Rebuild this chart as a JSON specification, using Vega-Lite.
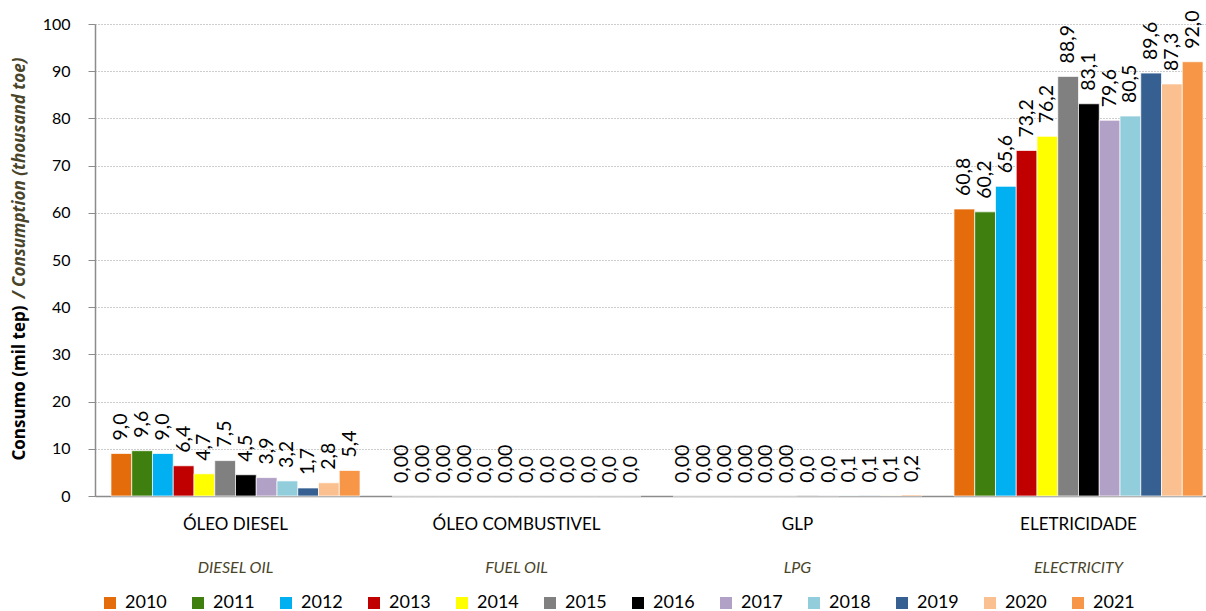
{
  "$schema": "https://vega.github.io/schema/vega-lite/v6.json",
  "width": 1111,
  "height": 472,
  "autosize": {"type": "none"},
  "padding": {"left": 95, "top": 24, "right": 0, "bottom": 115},
  "background": "white",
  "config": {"font": "Lato", "view": {"stroke": null}},
  "data": {
    "values": [
      {"cat": "ÓLEO DIESEL", "year": "2010", "value": 9.0, "label": "9,0"},
      {"cat": "ÓLEO DIESEL", "year": "2011", "value": 9.6, "label": "9,6"},
      {"cat": "ÓLEO DIESEL", "year": "2012", "value": 9.0, "label": "9,0"},
      {"cat": "ÓLEO DIESEL", "year": "2013", "value": 6.4, "label": "6,4"},
      {"cat": "ÓLEO DIESEL", "year": "2014", "value": 4.7, "label": "4,7"},
      {"cat": "ÓLEO DIESEL", "year": "2015", "value": 7.5, "label": "7,5"},
      {"cat": "ÓLEO DIESEL", "year": "2016", "value": 4.5, "label": "4,5"},
      {"cat": "ÓLEO DIESEL", "year": "2017", "value": 3.9, "label": "3,9"},
      {"cat": "ÓLEO DIESEL", "year": "2018", "value": 3.2, "label": "3,2"},
      {"cat": "ÓLEO DIESEL", "year": "2019", "value": 1.7, "label": "1,7"},
      {"cat": "ÓLEO DIESEL", "year": "2020", "value": 2.8, "label": "2,8"},
      {"cat": "ÓLEO DIESEL", "year": "2021", "value": 5.4, "label": "5,4"},
      {"cat": "ÓLEO COMBUSTIVEL", "year": "2010", "value": 0, "label": "0,00"},
      {"cat": "ÓLEO COMBUSTIVEL", "year": "2011", "value": 0, "label": "0,00"},
      {"cat": "ÓLEO COMBUSTIVEL", "year": "2012", "value": 0, "label": "0,00"},
      {"cat": "ÓLEO COMBUSTIVEL", "year": "2013", "value": 0, "label": "0,00"},
      {"cat": "ÓLEO COMBUSTIVEL", "year": "2014", "value": 0, "label": "0,0"},
      {"cat": "ÓLEO COMBUSTIVEL", "year": "2015", "value": 0, "label": "0,00"},
      {"cat": "ÓLEO COMBUSTIVEL", "year": "2016", "value": 0, "label": "0,0"},
      {"cat": "ÓLEO COMBUSTIVEL", "year": "2017", "value": 0, "label": "0,0"},
      {"cat": "ÓLEO COMBUSTIVEL", "year": "2018", "value": 0, "label": "0,0"},
      {"cat": "ÓLEO COMBUSTIVEL", "year": "2019", "value": 0, "label": "0,0"},
      {"cat": "ÓLEO COMBUSTIVEL", "year": "2020", "value": 0, "label": "0,0"},
      {"cat": "ÓLEO COMBUSTIVEL", "year": "2021", "value": 0, "label": "0,0"},
      {"cat": "GLP", "year": "2010", "value": 0, "label": "0,00"},
      {"cat": "GLP", "year": "2011", "value": 0, "label": "0,00"},
      {"cat": "GLP", "year": "2012", "value": 0, "label": "0,00"},
      {"cat": "GLP", "year": "2013", "value": 0, "label": "0,00"},
      {"cat": "GLP", "year": "2014", "value": 0, "label": "0,00"},
      {"cat": "GLP", "year": "2015", "value": 0, "label": "0,00"},
      {"cat": "GLP", "year": "2016", "value": 0.04, "label": "0,0"},
      {"cat": "GLP", "year": "2017", "value": 0.04, "label": "0,0"},
      {"cat": "GLP", "year": "2018", "value": 0.1, "label": "0,1"},
      {"cat": "GLP", "year": "2019", "value": 0.1, "label": "0,1"},
      {"cat": "GLP", "year": "2020", "value": 0.1, "label": "0,1"},
      {"cat": "GLP", "year": "2021", "value": 0.2, "label": "0,2"},
      {"cat": "ELETRICIDADE", "year": "2010", "value": 60.8, "label": "60,8"},
      {"cat": "ELETRICIDADE", "year": "2011", "value": 60.2, "label": "60,2"},
      {"cat": "ELETRICIDADE", "year": "2012", "value": 65.6, "label": "65,6"},
      {"cat": "ELETRICIDADE", "year": "2013", "value": 73.2, "label": "73,2"},
      {"cat": "ELETRICIDADE", "year": "2014", "value": 76.2, "label": "76,2"},
      {"cat": "ELETRICIDADE", "year": "2015", "value": 88.9, "label": "88,9"},
      {"cat": "ELETRICIDADE", "year": "2016", "value": 83.1, "label": "83,1"},
      {"cat": "ELETRICIDADE", "year": "2017", "value": 79.6, "label": "79,6"},
      {"cat": "ELETRICIDADE", "year": "2018", "value": 80.5, "label": "80,5"},
      {"cat": "ELETRICIDADE", "year": "2019", "value": 89.6, "label": "89,6"},
      {"cat": "ELETRICIDADE", "year": "2020", "value": 87.3, "label": "87,3"},
      {"cat": "ELETRICIDADE", "year": "2021", "value": 92.0, "label": "92,0"}
    ]
  },
  "encoding": {
    "xOffset": {"field": "year", "type": "nominal", "scale": {"paddingInner": 0, "paddingOuter": 0.77}}
  },
  "layer": [
    {
      "mark": {"type": "bar", "stroke": "white", "strokeWidth": 0.7},
      "encoding": {
        "x": {
          "field": "cat", "type": "nominal",
          "sort": ["ÓLEO DIESEL", "ÓLEO COMBUSTIVEL", "GLP", "ELETRICIDADE"],
          "scale": {"range": [0, 1124], "paddingInner": 0, "paddingOuter": 0},
          "axis": {
            "orient": "bottom", "title": null, "labelAngle": 0, "ticks": false,
            "labelFontSize": 17, "labelColor": "#000000", "labelPadding": 20,
            "domainColor": "#8c8c8c", "domainWidth": 1.5, "grid": false
          }
        },
        "y": {
          "field": "value", "type": "quantitative",
          "scale": {"domain": [0, 100]},
          "axis": {
            "orient": "left",
            "values": [0, 10, 20, 30, 40, 50, 60, 70, 80, 90, 100],
            "grid": true, "gridDash": [1, 2], "gridColor": "#9a9a9a", "gridWidth": 1,
            "tickSize": 7, "tickColor": "#8c8c8c", "domainColor": "#8c8c8c", "domainWidth": 1.5,
            "labelFontSize": 16, "labelColor": "#000000", "labelPadding": 18,
            "title": "Consumo (mil tep)", "titleFont": "Open Sans", "titleFontWeight": "bold", "titleFontSize": 17,
            "titleColor": "#000000", "titleAngle": 270, "titleX": -76, "titleY": 436,
            "titleAlign": "left", "titleBaseline": "middle"
          }
        },
        "color": {
          "field": "year", "type": "nominal",
          "scale": {
            "domain": ["2010", "2011", "2012", "2013", "2014", "2015", "2016", "2017", "2018", "2019", "2020", "2021"],
            "range": ["#E46C0A", "#3F7F10", "#00B0F0", "#C00000", "#FFFF00", "#808080", "#000000", "#B2A1C7", "#92CDDC", "#366092", "#FAC090", "#F79646"]
          },
          "legend": {
            "orient": "none", "legendX": 6, "legendY": 570, "direction": "horizontal", "columns": 12,
            "title": null, "symbolType": "square", "symbolSize": 144, "symbolStrokeWidth": 0,
            "labelFontSize": 18, "labelColor": "#000000", "columnPadding": 22, "labelOffset": 6
          }
        }
      }
    },
    {
      "mark": {"type": "text", "angle": 270, "align": "left", "baseline": "middle", "dx": 13, "fontSize": 19.5, "color": "#000000"},
      "encoding": {
        "x": {
          "field": "cat", "type": "nominal",
          "sort": ["ÓLEO DIESEL", "ÓLEO COMBUSTIVEL", "GLP", "ELETRICIDADE"],
          "scale": {"range": [0, 1124], "paddingInner": 0, "paddingOuter": 0},
          "axis": {
            "orient": "bottom", "title": null, "labelAngle": 0, "ticks": false, "domain": false, "grid": false,
            "labelFontSize": 16, "labelFontStyle": "italic", "labelColor": "#4A452A", "labelPadding": 63,
            "labelExpr": "datum.label == 'ÓLEO DIESEL' ? 'DIESEL OIL' : datum.label == 'ÓLEO COMBUSTIVEL' ? 'FUEL OIL' : datum.label == 'GLP' ? 'LPG' : 'ELECTRICITY'"
          }
        },
        "y": {
          "field": "value", "type": "quantitative",
          "scale": {"domain": [0, 100]},
          "axis": {
            "orient": "left", "labels": false, "ticks": false, "domain": false, "grid": false,
            "title": "/ Consumption (thousand toe)", "titleFont": "Open Sans", "titleFontWeight": "bold", "titleFontStyle": "italic",
            "titleFontSize": 17, "titleColor": "#4A452A", "titleAngle": 270, "titleX": -76, "titleY": 274,
            "titleAlign": "left", "titleBaseline": "middle"
          }
        },
        "text": {"field": "label", "type": "nominal"}
      }
    }
  ],
  "resolve": {"axis": {"x": "independent", "y": "independent"}}
}
